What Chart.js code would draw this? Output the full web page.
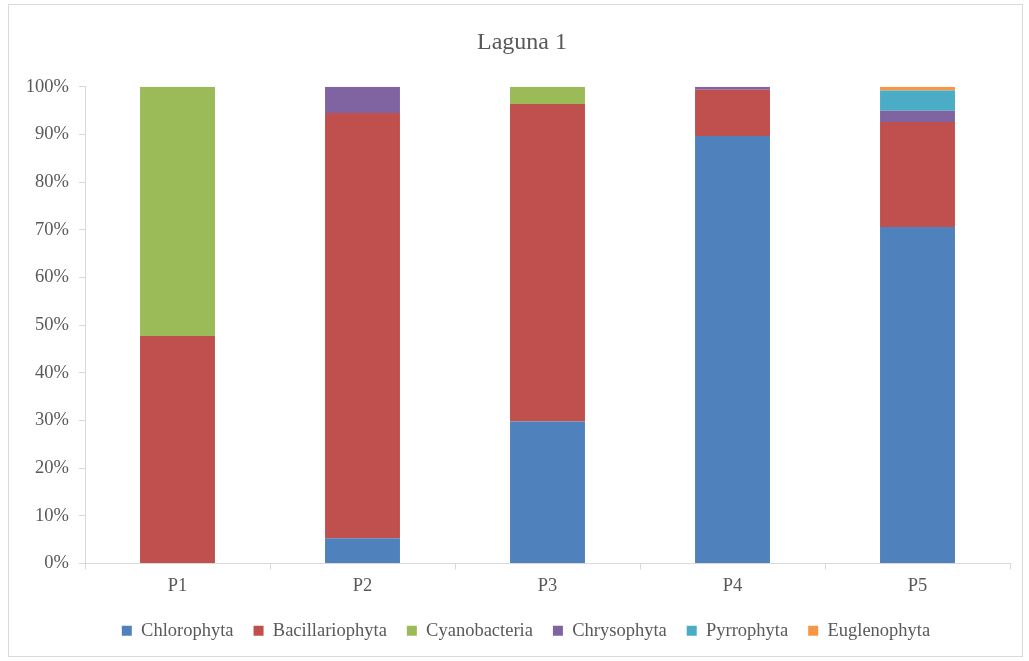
<!DOCTYPE html>
<html>
<head>
<meta charset="utf-8">
<script src="https://cdn.jsdelivr.net/npm/chart.js@4/dist/chart.umd.min.js"></script>
<style>
  html,body{margin:0;padding:0;background:#fff;}
  #wrap{width:1029px;height:661px;position:relative;}
</style>
</head>
<body>
<div id="wrap"><canvas id="chart" width="1029" height="661"></canvas></div>
<script>
/* -------------------- Data -------------------- */
const sites = ['P1','P2','P3','P4','P5'];

const chlorophyta     = [0,    5.3,  29.8, 89.7, 70.6];
const bacillariophyta = [47.7, 89.2, 66.6, 9.7,  22.0];
const cyanobacteria   = [52.3, 0,    3.6,  0,    0];
const chrysophyta     = [0,    5.5,  0,    0.6,  2.4];
const pyrrophyta      = [0,    0,    0,    0,    4.2];
const euglenophyta    = [0,    0,    0,    0,    0.8];

const yTicks = [0,10,20,30,40,50,60,70,80,90,100];

/* -------------------- Style -------------------- */
const FONT = "'Liberation Serif','Times New Roman',serif";
const TEXT = '#595959';
const AXIS = '#d9d9d9';

Chart.defaults.font.family = FONT;
Chart.defaults.color = TEXT;

// light grey frame round the whole chart
const framePlugin = {
  id:'frame',
  beforeDraw(chart){
    const c=chart.ctx;
    c.save();
    c.fillStyle='#fff';
    c.fillRect(0,0,chart.width,chart.height);
    c.strokeStyle=AXIS;
    c.lineWidth=1;
    c.strokeRect(8.5,4.5,1014,652);
    c.restore();
  }
};

// centre title and legend on the frame rather than the padded box
const centrePlugin = {
  id:'centre',
  afterLayout(chart){
    const lg=chart.legend, tb=chart.titleBlock;
    if(lg){ lg.left+=16; lg.right+=16; }
    if(tb){ tb.left+=12; tb.right+=12; }
  }
};

function ds(label,data,color){
  return {label, data, backgroundColor:color, borderWidth:0, stack:'s'};
}

new Chart(document.getElementById('chart'),{
  type:'bar',
  data:{
    labels:sites,
    datasets:[
      ds('Chlorophyta',chlorophyta,'#4F81BD'),
      ds('Bacillariophyta',bacillariophyta,'#C0504D'),
      ds('Cyanobacteria',cyanobacteria,'#9BBB59'),
      ds('Chrysophyta',chrysophyta,'#8064A2'),
      ds('Pyrrophyta',pyrrophyta,'#4BACC6'),
      ds('Euglenophyta',euglenophyta,'#F79646')
    ]
  },
  plugins:[framePlugin,centrePlugin],
  options:{
    responsive:false,
    animation:false,
    layout:{padding:{left:10,right:19,top:20,bottom:11}},
    datasets:{bar:{categoryPercentage:1,barPercentage:0.405}},
    plugins:{
      title:{display:true,text:'Laguna 1',color:TEXT,
        font:{family:FONT,size:24,weight:'normal'},padding:{top:8,bottom:30}},
      legend:{position:'bottom',
        labels:{boxWidth:10,boxHeight:10,padding:20,color:TEXT,font:{family:FONT,size:18.5}}},
      tooltip:{enabled:false}
    },
    scales:{
      x:{
        stacked:true,
        grid:{display:true,drawOnChartArea:false,offset:true,color:AXIS,tickLength:6},
        border:{color:AXIS},
        ticks:{color:TEXT,padding:6,font:{family:FONT,size:18.5}},
        afterFit(s){ s.height=38; }
      },
      y:{
        stacked:true,min:0,max:100,
        afterBuildTicks(s){ s.ticks=yTicks.map(v=>({value:v})); },
        grid:{display:true,drawOnChartArea:false,color:AXIS,tickLength:6},
        border:{color:AXIS},
        ticks:{color:TEXT,padding:10,font:{family:FONT,size:18.5},callback:v=>v+'%'},
        afterFit(s){ s.width=75; }
      }
    }
  }
});
</script>
</body>
</html>
